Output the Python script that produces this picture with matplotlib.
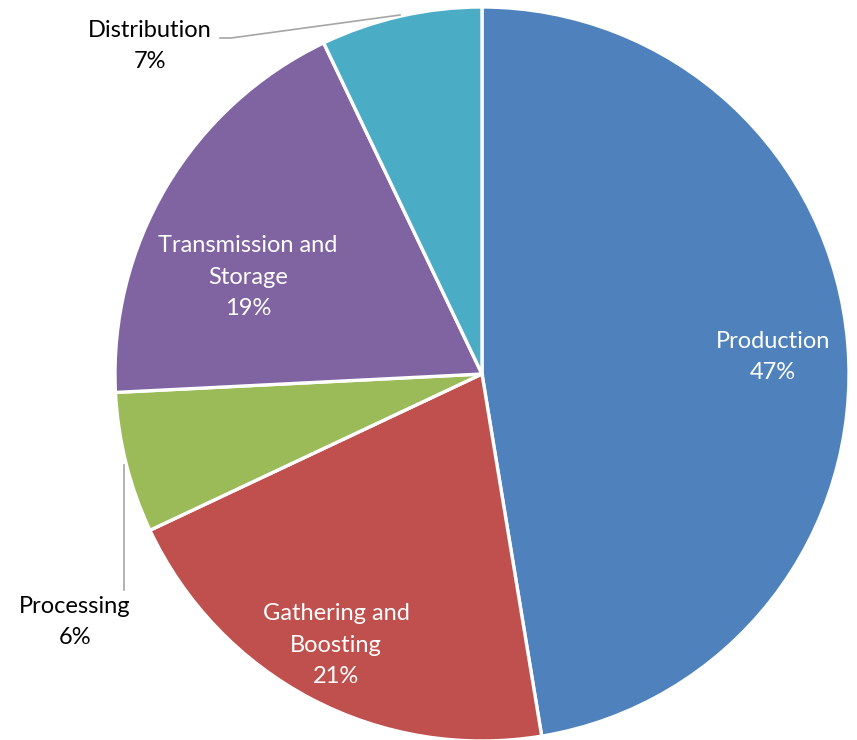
import matplotlib
matplotlib.use("Agg")
import matplotlib.pyplot as plt
import numpy as np

categories = ["Production", "Gathering and\nBoosting", "Processing", "Transmission and\nStorage", "Distribution"]
values = [47.4, 20.6, 6.2, 18.7, 7.1]
pct_labels = ["47%", "21%", "6%", "19%", "7%"]
colors = ["#4F81BD", "#C0504D", "#9BBB59", "#8064A2", "#4BACC6"]

plt.rcParams['font.family'] = ['Lato', 'DejaVu Sans']

W, H = 857, 740
fig = plt.figure(figsize=(W / 100, H / 100), dpi=100)
cx, cy, r = 482, 374, 367
ax = fig.add_axes([(cx - r) / W, (H - cy - r) / H, 2 * r / W, 2 * r / H])

wedges, _ = ax.pie(values, colors=colors, startangle=90, counterclock=False,
                   radius=1, wedgeprops=dict(edgecolor='white', linewidth=2.4))
for w in wedges:
    w.set_clip_on(False)
ax.set_xlim(-1, 1)
ax.set_ylim(-1, 1)
ax.set_aspect('equal')
ax.axis('off')

def px(x, y):
    return ((x - cx) / r, (cy - y) / r)

fs = 17
ls = 1.6
# inside labels
inside = {0: (773, 357), 1: (336, 645), 3: (248, 277)}
for i, (x, y) in inside.items():
    ax.text(*px(x, y), categories[i] + "\n" + pct_labels[i], ha='center', va='center',
            color='white', fontsize=fs, linespacing=ls, clip_on=False)

# outside labels
ax.text(*px(75, 622), categories[2] + "\n" + pct_labels[2], ha='center', va='center',
        color='black', fontsize=fs, linespacing=ls, clip_on=False)
ax.text(*px(150, 46), categories[4] + "\n" + pct_labels[4], ha='center', va='center',
        color='black', fontsize=fs, linespacing=ls, clip_on=False)

# leader lines
lx, ly = zip(px(124, 465), px(124, 590))
ax.plot(lx, ly, color='#A6A6A6', lw=1.2, clip_on=False)
lx, ly = zip(px(220, 38), px(231, 38), px(400, 15))
ax.plot(lx, ly, color='#A6A6A6', lw=1.2, clip_on=False)

fig.savefig("out.png", dpi=100)
